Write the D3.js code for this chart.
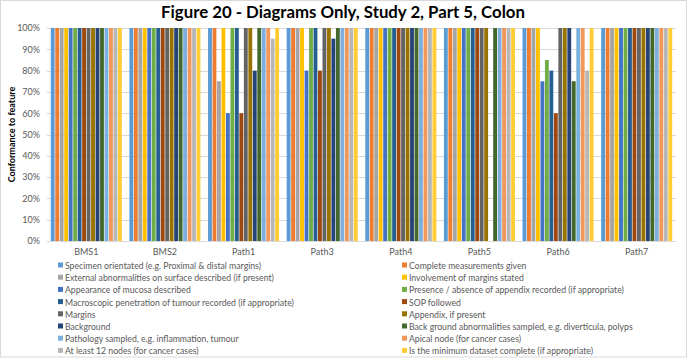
<!DOCTYPE html>
<html>
<head>
<meta charset="utf-8">
<script src="https://cdn.jsdelivr.net/npm/d3@7"></script>
<style>
  body { margin: 0; background: #fff; }
  text { font-family: Lato, "Open Sans", sans-serif; }
</style>
</head>
<body>
<div id="chart"></div>
<script>
let groups = ['BMS1', 'BMS2', 'Path1', 'Path3', 'Path4', 'Path5', 'Path6', 'Path7']

let seriesNames = [
    'Specimen orientated (e.g. Proximal & distal margins)',
    'Complete measurements given',
    'External abnormalities on surface described (if present)',
    'Involvement of margins stated',
    'Appearance of mucosa described',
    'Presence / absence of appendix recorded (if appropriate)',
    'Macroscopic penetration of tumour recorded (if appropriate)',
    'SOP followed',
    'Margins',
    'Appendix, if present',
    'Background',
    'Back ground abnormalities sampled, e.g. diverticula, polyps',
    'Pathology sampled, e.g. inflammation, tumour',
    'Apical node (for cancer cases)',
    'At least 12 nodes (for cancer cases)',
    'Is the minimum dataset complete (if appropriate)'
]

let colors = ['#5B9BD5', '#ED7D31', '#A5A5A5', '#FFC000', '#4472C4', '#70AD47',
    '#255E91', '#9E480E', '#636363', '#997300', '#264478', '#43682B',
    '#7CAFDD', '#F1975A', '#B7B7B7', '#FFCD33']

// values per series, one per group (BMS1 .. Path7), in %
let values = [
    [100, 100, 100, 100, 100, 100, 100, 100],
    [100, 100, 100, 100, 100, 100, 100, 100],
    [100, 100, 75, 100, 100, 100, 100, 100],
    [100, 100, 100, 100, 100, 100, 100, 100],
    [100, 100, 60, 80, 100, 100, 75, 100],
    [100, 100, 100, 100, 100, 100, 85, 100],
    [100, 100, 100, 100, 100, 100, 80, 100],
    [100, 100, 60, 80, 100, 100, 60, 100],
    [100, 100, 100, 100, 100, 100, 100, 100],
    [100, 100, 100, 100, 100, 100, 100, 100],
    [100, 100, 80, 95, 100, 0, 100, 100],
    [100, 100, 100, 100, 100, 100, 75, 100],
    [100, 100, 100, 100, 100, 100, 100, 100],
    [100, 100, 100, 100, 100, 100, 100, 100],
    [100, 100, 95, 100, 100, 100, 80, 100],
    [100, 100, 100, 100, 100, 100, 100, 100]
]

let yTicks = [0, 10, 20, 30, 40, 50, 60, 70, 80, 90, 100]

let width = 693, height = 364
let plotLeft = 47, plotRight = 676, plotTop = 28, plotBottom = 241

let svg = d3.select('#chart')
    .append('svg')
    .attr('width', width)
    .attr('height', height)

svg.append('rect')
    .attr('x', 0.5).attr('y', 0.5)
    .attr('width', 686).attr('height', 356.5)
    .attr('fill', '#fff')
    .attr('stroke', '#D9D9D9')

let xScale = d3.scaleBand()
    .domain(groups)
    .range([plotLeft, plotRight])

let xInner = d3.scaleBand()
    .domain(d3.range(seriesNames.length))
    .range([3.8, xScale.bandwidth() - 3.8])
    .paddingInner(0.14)

let yScale = d3.scaleLinear()
    .domain([0, 100])
    .range([plotBottom, plotTop])

// gridlines
svg.append('g')
    .selectAll('line')
    .data(yTicks)
    .enter()
    .append('line')
    .attr('x1', plotLeft)
    .attr('x2', plotRight)
    .attr('y1', d => Math.round(yScale(d)) + 0.5)
    .attr('y2', d => Math.round(yScale(d)) + 0.5)
    .attr('stroke', '#D9D9D9')
    .attr('stroke-width', 1)

let yAxis = d3.axisLeft(yScale)
    .tickValues(yTicks)
    .tickFormat(d => d + '%')
    .tickSize(0)
    .tickPadding(7)

svg.append('g')
    .attr('transform', `translate(${plotLeft},0)`)
    .call(yAxis)
    .call(g => g.select('.domain').remove())
    .selectAll('text')
    .attr('font-size', 9)
    .attr('fill', '#595959')
    .style('font-family', 'Lato, sans-serif')

// bars
let groupG = svg.selectAll('.group')
    .data(groups)
    .enter()
    .append('g')
    .attr('class', 'group')
    .attr('transform', d => `translate(${xScale(d)},0)`)

groupG.selectAll('rect')
    .data((g, gi) => seriesNames.map((s, si) => ({ si: si, v: values[si][gi] })))
    .enter()
    .append('rect')
    .attr('x', d => xInner(d.si))
    .attr('width', xInner.bandwidth())
    .attr('y', d => yScale(d.v))
    .attr('height', d => yScale(0) - yScale(d.v))
    .attr('fill', d => colors[d.si])

let xAxis = d3.axisBottom(xScale)
    .tickSize(0)
    .tickPadding(8)

svg.append('g')
    .attr('transform', `translate(0,${plotBottom})`)
    .call(xAxis)
    .call(g => g.select('.domain').attr('stroke', '#D9D9D9'))
    .selectAll('text')
    .attr('font-size', 9)
    .attr('fill', '#595959')
    .style('font-family', 'Lato, sans-serif')

// title
svg.append('text')
    .attr('x', 343)
    .attr('y', 18)
    .attr('text-anchor', 'middle')
    .attr('font-size', 16.8)
    .attr('font-weight', 'bold')
    .attr('fill', '#000')
    .text('Figure 20 - Diagrams Only, Study 2, Part 5, Colon')

// y label
svg.append('text')
    .attr('transform', `translate(15,${(plotTop + plotBottom) / 2}) rotate(-90)`)
    .attr('text-anchor', 'middle')
    .attr('font-size', 9)
    .attr('font-weight', 'bold')
    .attr('fill', '#000')
    .text('Conformance to feature')

// legend: two columns, row-major
let legend = svg.append('g')
    .selectAll('g')
    .data(seriesNames)
    .enter()
    .append('g')
    .attr('transform', (d, i) => `translate(${i % 2 === 0 ? 58 : 402},${266 + Math.floor(i / 2) * 12.2})`)

legend.append('rect')
    .attr('x', 0)
    .attr('y', -3.5)
    .attr('width', 5)
    .attr('height', 5)
    .attr('fill', (d, i) => colors[i])

legend.append('text')
    .attr('x', 7)
    .attr('y', 0)
    .attr('dy', '0.35em')
    .attr('font-size', 8.7)
    .attr('fill', '#595959')
    .text(d => d)
</script>
</body>
</html>
